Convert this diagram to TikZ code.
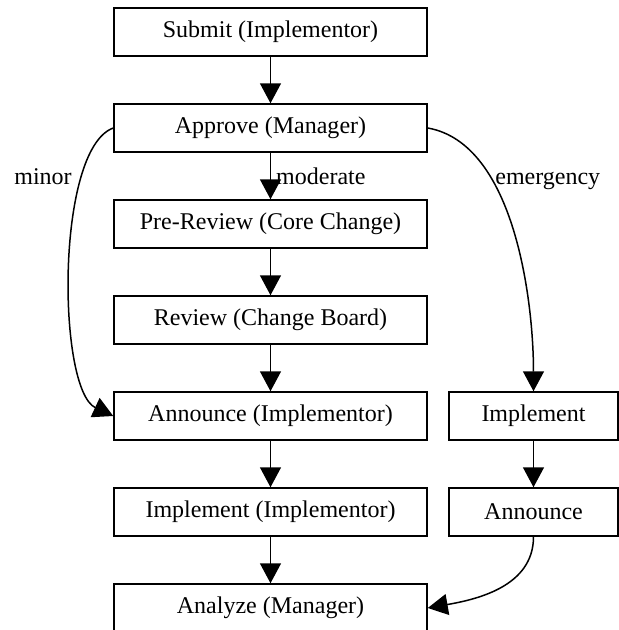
\documentclass[tikz,border=0pt]{standalone}
\usepackage{fontspec}
\setmainfont{Liberation Serif}
\usetikzlibrary{positioning,arrows.meta}

\begin{document}
\begin{tikzpicture}[
    font=\fontsize{13.66}{16}\selectfont,
    node distance=0.93cm,
    box/.style={draw, line width=0.03cm, minimum width=6.26cm, minimum height=0.96cm, inner sep=0pt},
    smallbox/.style={box, minimum width=3.38cm},
    flow/.style={-{Triangle[length=0.4cm,width=0.42cm]}, line width=0.03cm}
  ]
        % Fix the page size
        \useasboundingbox (0,0) rectangle (12.38,-12.6);

        % Draw the normal chain of steps
        \node[box] (submit) at (5.41,-0.64) {Submit (Implementor)};
        \node[box, below=of submit] (approve) {Approve (Manager)};
        \node[box, below=of approve] (prereview) {Pre-Review (Core Change)};
        \node[box, below=of prereview] (review) {Review (Change Board)};
        \node[box, below=of review] (announce) {Announce (Implementor)};
        \node[box, below=of announce] (implement) {Implement (Implementor)};
        \node[box, below=of implement] (analyze) {Analyze (Manager)};

        % Draw the emergency steps
        \node[smallbox, right=0.41cm of announce] (emimplement) {Implement};
        \node[smallbox, below=of emimplement] (emannounce) {Announce};

        % Draw the arrows down the chain
        \draw[flow] (submit) -- (approve);
        \draw[flow] (approve) -- node[right, inner sep=0.1cm] (moderate) {moderate} (prereview);
        \draw[flow] (prereview) -- (review);
        \draw[flow] (review) -- (announce);
        \draw[flow] (announce) -- (implement);
        \draw[flow] (implement) -- (analyze);
        \draw[flow] (emimplement) -- (emannounce);

        % Draw the curved side paths
        \draw[flow] (approve.west) to[out=200, in=155, looseness=0.55] (announce.west);
        \draw[flow] (approve.east) to[out=-10, in=90, looseness=0.8] (emimplement.north);
        \draw[flow] (emannounce.south) to[out=-90, in=10] (analyze.east);

        % Write the labels of the side paths
        \node[anchor=base west, inner sep=0pt] (minor) at (0.28,-3.68) {minor};
        \node[anchor=base west, inner sep=0pt] (emergency) at (9.9,-3.68) {emergency};

\end{tikzpicture}
\end{document}
